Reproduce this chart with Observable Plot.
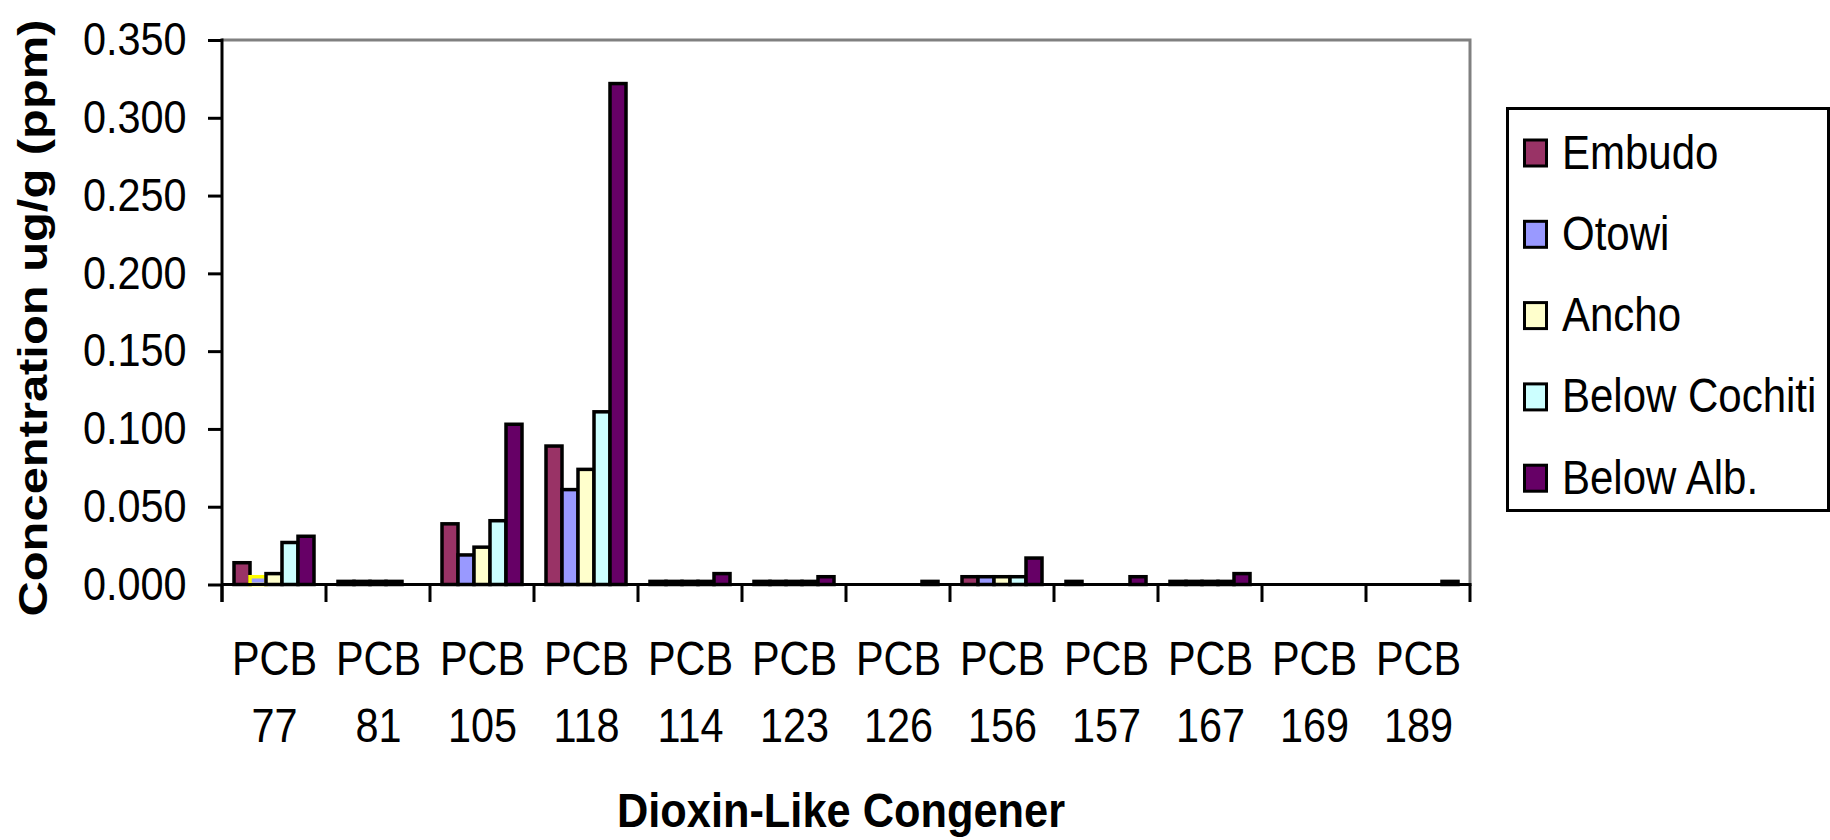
<!DOCTYPE html>
<html><head><meta charset="utf-8">
<script src="https://cdn.jsdelivr.net/npm/d3@7"></script>
<script src="https://cdn.jsdelivr.net/npm/@observablehq/plot@0.6"></script>
<style>
html,body{margin:0;padding:0;background:#fff;}
svg{display:block;}
</style></head><body><div id="chart"></div>
<script>
// ---- data ----
const congeners = ["PCB 77","PCB 81","PCB 105","PCB 118","PCB 114","PCB 123","PCB 126","PCB 156","PCB 157","PCB 167","PCB 169","PCB 189"];
const sites = ["Embudo","Otowi","Ancho","Below Cochiti","Below Alb."];
const embudo       = [0.014, 0.002, 0.039, 0.089, 0.002, 0.002, null,  0.005, 0.002, 0.002, null, null];
const otowi        = [0.005, 0.002, 0.019, 0.061, 0.002, 0.002, null,  0.005, null,  0.002, null, null];
const ancho        = [0.007, 0.002, 0.024, 0.074, 0.002, 0.002, null,  0.005, null,  0.002, null, null];
const belowCochiti = [0.027, 0.002, 0.041, 0.111, 0.002, 0.002, null,  0.005, null,  0.002, null, null];
const belowAlb     = [0.031, null,  0.103, 0.322, 0.007, 0.005, 0.002, 0.017, 0.005, 0.007, null, 0.002];
const yTicks = [0, 0.05, 0.1, 0.15, 0.2, 0.25, 0.3, 0.35];
const palette = ["#993366", "#9999FF", "#FFFFCC", "#CCFFFF", "#660066"];
const xTitle = "Dioxin-Like Congener";
const yTitle = "Concentration ug/g (ppm)";

const series = [embudo, otowi, ancho, belowCochiti, belowAlb];
const rows = [];
congeners.forEach((c, j) => sites.forEach((s, i) => {
  const v = series[i][j];
  if (v != null) rows.push({congener: c, site: s, value: v});
}));

const chart = Plot.plot({
  width: 1830, height: 840,
  marginLeft: 220, marginRight: 358, marginTop: 40, marginBottom: 255.5,
  style: {fontFamily: "'Liberation Sans', Arial, sans-serif", fontSize: "46px", background: "#fff", color: "#000", overflow: "visible"},
  fx: {domain: congeners, padding: 0, axis: null, label: null},
  x: {domain: sites, paddingInner: 0, paddingOuter: 0.7, axis: null, label: null},
  y: {domain: [0, 0.35], ticks: yTicks, tickFormat: d => d.toFixed(3), tickSize: 14, tickPadding: 22, label: null},
  color: {domain: sites, range: palette},
  marks: [
    Plot.barY(rows, {
      fx: "congener", x: "site", y: "value", fill: "site",
      stroke: d => (d.congener === "PCB 77" && d.site === "Otowi") ? "#FFFF00" : "#000000",
      strokeWidth: 3.5
    }),
    Plot.text(congeners, {fx: d => d, frameAnchor: "bottom", lineAnchor: "middle", text: d => d.split(" ")[0], dy: 74.8, fontSize: 49}),
    Plot.text(congeners, {fx: d => d, frameAnchor: "bottom", lineAnchor: "middle", text: d => d.split(" ")[1], dy: 141.8, fontSize: 49})
  ]
});

document.getElementById("chart").append(chart);
const svgNode = chart.tagName.toLowerCase() === "svg" ? chart : chart.querySelector("svg");
const svg = d3.select(svgNode);

// compress Excel-like stretched text
svg.selectAll("text").each(function () {
  const t = this.textContent;
  const f = /^0\.\d{3}$/.test(t) ? 0.9 : 0.845;
  const L = this.getComputedTextLength();
  if (L > 0) { this.setAttribute("textLength", L * f); this.setAttribute("lengthAdjust", "spacingAndGlyphs"); }
});
svg.selectAll('[aria-label^="y-axis"] path, [aria-label^="y-axis"] line').attr("stroke-width", 3).attr("stroke", "#000");

const fx = chart.scale("fx");
const y = chart.scale("y");
const x0 = fx.apply(congeners[0]);
const x1 = fx.apply(congeners[congeners.length - 1]) + fx.bandwidth;
const yb = y.apply(0), yt = y.apply(0.35);

const g = svg.append("g");
// gray plot border top and right
g.append("path").attr("d", `M${x0},${yt}H${x1}V${yb}`).attr("fill", "none").attr("stroke", "#808080").attr("stroke-width", 3);
// black axes
g.append("line").attr("x1", x0).attr("x2", x0).attr("y1", yt - 1.5).attr("y2", yb + 17.5).attr("stroke", "#000").attr("stroke-width", 3);
g.append("line").attr("x1", x0).attr("x2", x1 + 1.5).attr("y1", yb).attr("y2", yb).attr("stroke", "#000").attr("stroke-width", 3);
const bounds = congeners.map(c => fx.apply(c)).concat([x1]);
g.selectAll("line.bt").data(bounds).join("line").attr("class", "bt")
  .attr("x1", d => d).attr("x2", d => d).attr("y1", yb).attr("y2", yb + 17.5)
  .attr("stroke", "#000").attr("stroke-width", 3);

function squeeze(sel, f) {
  sel.each(function () {
    const L = this.getComputedTextLength();
    this.setAttribute("textLength", L * f);
    this.setAttribute("lengthAdjust", "spacingAndGlyphs");
  });
}

// axis titles
const xt = svg.append("text").attr("x", 841).attr("y", 827).attr("text-anchor", "middle")
  .attr("font-weight", "bold").attr("font-size", 49).attr("fill", "#000").text(xTitle);
squeeze(xt, 0.885);
const yTitleEl = svg.append("text").attr("transform", "translate(47,318) rotate(-90)").attr("text-anchor", "middle")
  .attr("font-weight", "bold").attr("font-size", 40).attr("fill", "#000").text(yTitle);
yTitleEl.attr("textLength", 597).attr("lengthAdjust", "spacingAndGlyphs");

// legend
const color = chart.scale("color");
const lg = svg.append("g").attr("text-anchor", "start");
lg.append("rect").attr("x", 1507.5).attr("y", 108.5).attr("width", 321).attr("height", 402)
  .attr("fill", "#fff").attr("stroke", "#000").attr("stroke-width", 3);
sites.forEach((s, i) => {
  const cy = 153 + i * 81.3;
  lg.append("rect").attr("x", 1524.5).attr("y", cy - 13).attr("width", 22).attr("height", 26)
    .attr("fill", color.apply(s)).attr("stroke", "#000").attr("stroke-width", 3);
  lg.append("text").attr("transform", `translate(1562,${cy + 15.5}) scale(1,1.16)`).attr("text-anchor", "start")
    .attr("font-size", 42).attr("fill", "#000").text(s);
});
</script>
</body></html>
